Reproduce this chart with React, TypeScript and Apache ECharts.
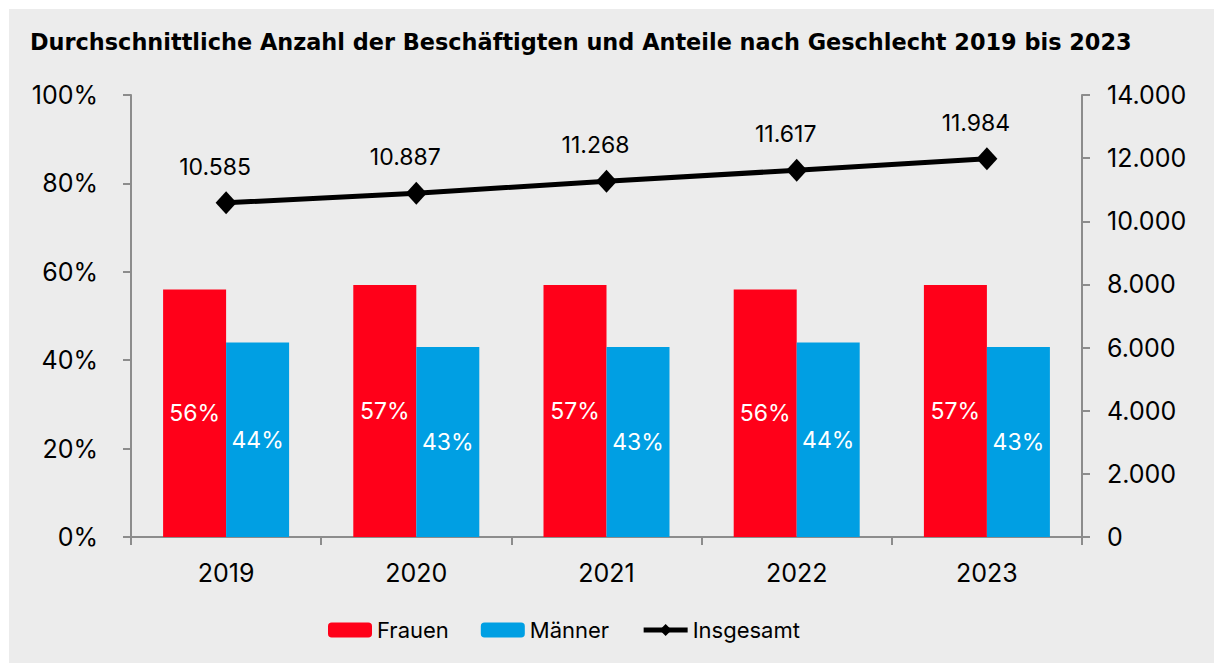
import React, { useEffect, useRef } from "react";
import * as echarts from "echarts";

const categories = ["2019", "2020", "2021", "2022", "2023"];
const frauen = [56, 57, 57, 56, 57];
const maenner = [44, 43, 43, 44, 43];
const insgesamt = [10585, 10887, 11268, 11617, 11984];
const titleText = "Durchschnittliche Anzahl der Beschäftigten und Anteile nach Geschlecht 2019 bis 2023";

const FONT = "Inter";

function de(n: number): string {
  const s = Math.round(n).toString();
  return s.replace(/\B(?=(\d{3})+(?!\d))/g, ".");
}

export default function App() {
  const ref = useRef<HTMLDivElement>(null);
  useEffect(() => {
    if (!ref.current) return;
    const chart = echarts.init(ref.current, undefined, { renderer: "svg" });
    const axisLineStyle = { color: "#8c8c8c", width: 2 };
    chart.setOption({
      animation: false,
      backgroundColor: "#ececec",
      textStyle: { fontFamily: FONT },
      title: {
        text: titleText,
        left: 16,
        top: 17,
        textStyle: { fontFamily: "DejaVu Sans", fontWeight: "bold", fontSize: 22.4, color: "#000" },
      },
      legend: {
        left: 314,
        top: 605,
        itemWidth: 44,
        itemHeight: 15,
        itemGap: 32,
        textStyle: { fontFamily: FONT, fontSize: 22, color: "#000" },
        data: [
          { name: "Frauen" },
          { name: "Männer" },
          { name: "Insgesamt", lineStyle: { width: 5, color: "#000" }, itemStyle: { color: "#000" } },
        ],
      },
      grid: { left: 122, right: 132, top: 86, bottom: 126 },
      xAxis: {
        type: "category",
        data: categories,
        axisLine: { lineStyle: axisLineStyle },
        axisTick: { show: true, length: 8, lineStyle: axisLineStyle, alignWithLabel: false },
        axisLabel: { fontFamily: FONT, fontSize: 25, color: "#000", margin: 23 },
      },
      yAxis: [
        {
          type: "value",
          min: 0,
          max: 100,
          interval: 20,
          position: "left",
          splitLine: { show: false },
          axisLine: { show: true, lineStyle: axisLineStyle },
          axisTick: { show: true, length: 8, lineStyle: axisLineStyle },
          axisLabel: { fontFamily: FONT, fontSize: 25, color: "#000", margin: 33, formatter: (v: number) => v + "%" },
        },
        {
          type: "value",
          min: 0,
          max: 14000,
          interval: 2000,
          position: "right",
          splitLine: { show: false },
          axisLine: { show: true, lineStyle: axisLineStyle },
          axisTick: { show: true, length: 8, lineStyle: axisLineStyle },
          axisLabel: { fontFamily: FONT, fontSize: 25, color: "#000", margin: 25, formatter: (v: number) => de(v) },
        },
      ],
      series: [
        {
          name: "Frauen",
          type: "bar",
          data: frauen,
          barWidth: 63,
          barGap: "0%",
          itemStyle: { color: "#ff0019" },
          label: { show: true, position: "inside", color: "#fff", fontFamily: FONT, fontSize: 23, formatter: "{c}%" },
        },
        {
          name: "Männer",
          type: "bar",
          data: maenner,
          barWidth: 63,
          barGap: "0%",
          itemStyle: { color: "#009fe3" },
          label: { show: true, position: "inside", color: "#fff", fontFamily: FONT, fontSize: 23, formatter: "{c}%" },
        },
        {
          name: "Insgesamt",
          type: "line",
          yAxisIndex: 1,
          data: insgesamt,
          symbol: "diamond",
          symbolSize: [21, 23],
          lineStyle: { color: "#000", width: 5 },
          itemStyle: { color: "#000" },
          label: {
            show: true,
            position: "top",
            distance: 13,
            offset: [-11, 0],
            color: "#000",
            fontFamily: FONT,
            fontSize: 23,
            formatter: (p: any) => de(p.value),
          },
        },
      ],
    });
    return () => chart.dispose();
  }, []);
  return (
    <div style={{ position: "fixed", left: 0, top: 0, width: 1214, height: 663, background: "#fff" }}>
      <div ref={ref} style={{ position: "absolute", left: 9, top: 9, width: 1205, height: 654 }} />
    </div>
  );
}
